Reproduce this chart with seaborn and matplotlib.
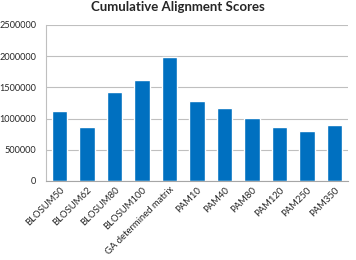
import matplotlib
matplotlib.use("Agg")
import matplotlib.pyplot as plt
import seaborn as sns
import pandas as pd

categories = ["BLOSUM50", "BLOSUM62", "BLOSUM80", "BLOSUM100", "GA determined matrix",
              "PAM10", "PAM40", "PAM80", "PAM120", "PAM250", "PAM350"]
scores = [1120000, 870000, 1430000, 1620000, 1990000, 1285000, 1170000, 1010000, 865000, 800000, 900000]
yticks = [0, 500000, 1000000, 1500000, 2000000, 2500000]

sns.set_theme(style="white")
plt.rcParams['font.family'] = ['Lato', 'DejaVu Sans']

df = pd.DataFrame({"matrix": categories, "score": scores})

fig = plt.figure(figsize=(3.56, 2.6), dpi=100)
ax = fig.add_axes([0.129, 0.304, 0.849, 0.600])
sns.barplot(data=df, x="matrix", y="score", color="#0070C0", saturation=1, width=0.57, ax=ax)

ax.set_ylim(0, 2500000)
ax.set_yticks(yticks)
ax.set_yticklabels([str(v) for v in yticks], fontsize=6.6)
ax.yaxis.grid(True, color="#bfbfbf", linewidth=0.8)
ax.set_axisbelow(True)
ax.set_xlim(-0.5, len(categories) - 0.5)
ax.set_xticks(range(len(categories)))
ax.set_xticklabels(categories, rotation=45, ha="right", rotation_mode="anchor", fontsize=6.8)
ax.set_xlabel("")
ax.set_ylabel("")
for s in ["top", "right"]:
    ax.spines[s].set_visible(False)
ax.spines["bottom"].set_color("#a6a6a6")
ax.spines["left"].set_color("#bfbfbf")
ax.spines["bottom"].set_linewidth(0.8)
ax.spines["left"].set_linewidth(0.8)
ax.tick_params(axis="x", length=0, pad=3)
ax.tick_params(axis="y", length=0, pad=7)
fig.text(0.5, 0.995, "Cumulative Alignment Scores", ha="center", va="top",
         fontsize=9.5, fontweight="bold")

fig.savefig("out.png", dpi=100)
